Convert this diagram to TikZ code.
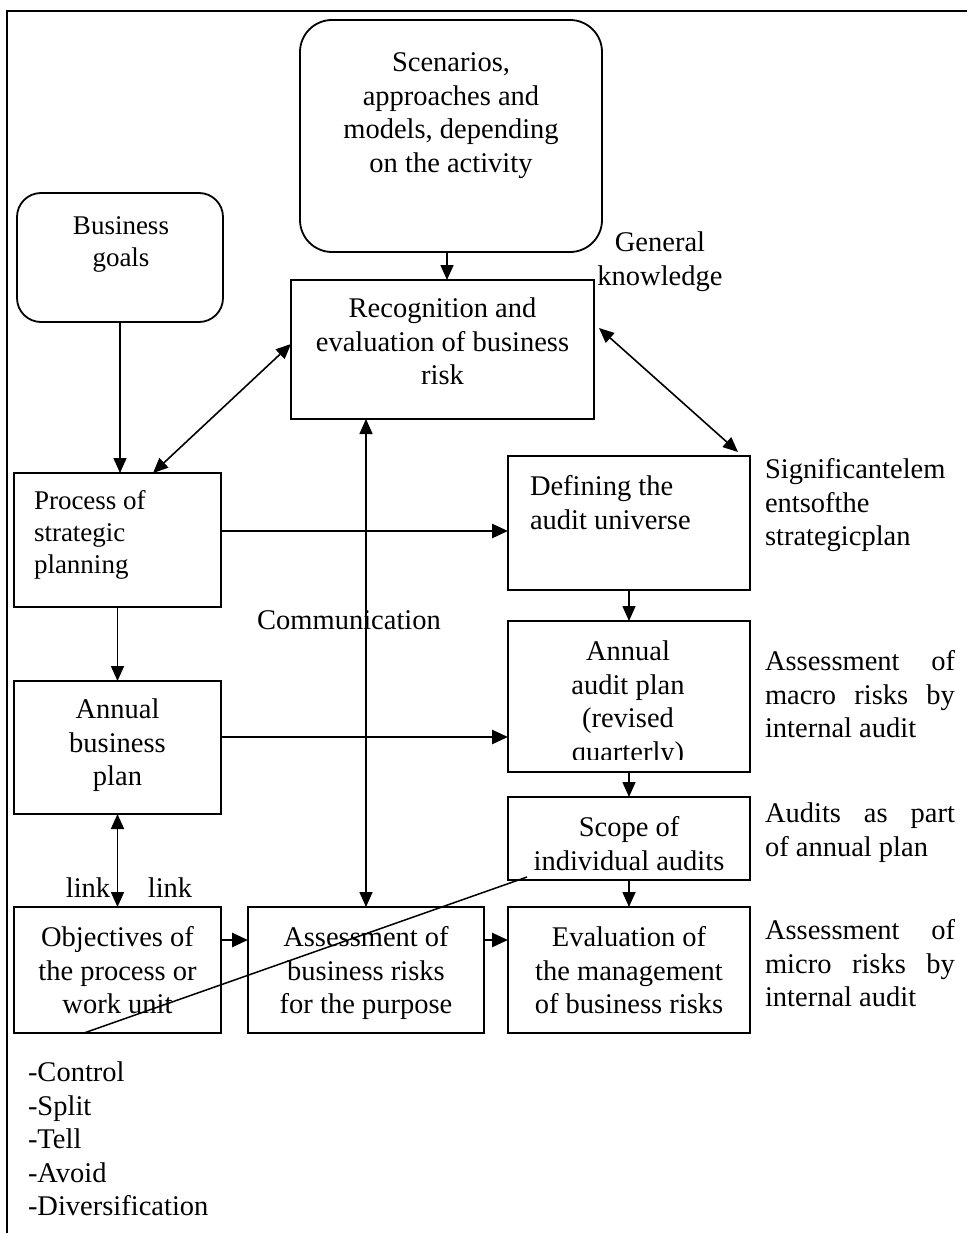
\documentclass[tikz,border=0pt]{standalone}
\usepackage{fontspec}
\setmainfont{Liberation Serif}
\usetikzlibrary{arrows.meta}
\begin{document}
\begin{tikzpicture}[x=1pt,y=-1pt,
  box/.style={draw,line width=1.8pt,inner sep=0pt,outer sep=0pt,rectangle},
  txt/.style={inner sep=0pt,outer sep=0pt,yshift=-3pt,align=center,font=\fontsize{28.5}{33.4}\selectfont},
  ltxt/.style={txt,align=left},
  stxt/.style={inner sep=0pt,outer sep=0pt,yshift=-3pt,align=center,font=\fontsize{27}{31.8}\selectfont},
  stip/.tip={Triangle[length=15pt,width=13pt]},
  btip/.tip={Triangle[length=16pt,width=14pt]},
  arr/.style={-stip,line width=1.6pt},
  darr/.style={stip-stip,line width=1.6pt},
  tarr/.style={-btip,line width=2.6pt},
]
\useasboundingbox (0,0) rectangle (967,1233);
\fill[white] (0,0) rectangle (967,1233);
\draw[line width=2pt] (7,1233) -- (7,11) -- (967,11);

% boxes
\node[box,rounded corners=32pt,minimum width=302pt,minimum height=232pt] (scen) at (451,136) {};
\node[box,rounded corners=24pt,minimum width=206pt,minimum height=129pt] (goals) at (120,257.5) {};
\node[box,minimum width=303pt,minimum height=139pt] (recog) at (442.5,349.5) {};
\node[box,minimum width=207pt,minimum height=134pt] (proc) at (117.5,540) {};
\node[box,minimum width=242pt,minimum height=134pt] (def) at (629,523) {};
\node[box,minimum width=242pt,minimum height=151pt] (aap) at (629,696.5) {};
\node[box,minimum width=207pt,minimum height=133pt] (abp) at (117.5,747.5) {};
\node[box,minimum width=242pt,minimum height=83pt] (scope) at (629,838.5) {};
\node[box,minimum width=207pt,minimum height=126pt] (obj) at (117.5,970) {};
\node[box,minimum width=236pt,minimum height=126pt] (ass) at (366,970) {};
\node[box,minimum width=242pt,minimum height=126pt] (eval) at (629,970) {};

% texts
\node[txt,anchor=north] (tscen) at (451,45.5) {\strut Scenarios,\\approaches and\\models, depending\\on the activity};
\node[stxt,anchor=north] (tgoals) at (121,209.2) {\strut Business\\goals};
\node[txt,anchor=north] (tgen) at (660,225.5) {\strut General\\knowledge};
\node[txt,anchor=north] (trecog) at (442.5,291.5) {\strut Recognition and\\evaluation of business\\risk};
\node[stxt,align=left,anchor=north west] (tproc) at (34,484.2) {\strut Process of\\strategic\\planning};
\node[ltxt,anchor=north west] (tdef) at (530,469.5) {\strut Defining the\\audit universe};
\node[ltxt,anchor=north west] (tsig) at (765,452.5) {\strut Significantelem\\entsofthe\\strategicplan};
\node[txt,anchor=north] (tcomm) at (349,603.5) {\strut Communication};
\begin{scope}
\clip (508,621) rectangle (750,759);
\node[txt,anchor=north] (taap) at (628,634.5) {\strut Annual\\audit plan\\(revised\\quarterly)};
\end{scope}
\node[ltxt,anchor=north west] (tmacro) at (765,644.5) {\strut\makebox[190pt][s]{Assessment of}\\\makebox[190pt][s]{macro risks by}\\internal audit};
\node[txt,anchor=north] (tabp) at (117.5,692.5) {\strut Annual\\business\\plan};
\node[txt,anchor=north] (tscope) at (629,810.5) {\strut Scope of\\individual audits};
\node[ltxt,anchor=north west] (taud) at (765,796.5) {\strut\makebox[190pt][s]{Audits as part}\\of annual plan};
\node[txt,anchor=north] (tlink1) at (88,871.5) {\strut link};
\node[txt,anchor=north] (tlink2) at (170,871.5) {\strut link};
\node[txt,anchor=north] (tobj) at (117.5,920.5) {\strut Objectives of\\the process or\\work unit};
\node[txt,anchor=north] (tass) at (366,920.5) {\strut Assessment of\\business risks\\for the purpose};
\node[txt,anchor=north] (teval) at (629,920.5) {\strut Evaluation of\\the management\\of business risks};
\node[ltxt,anchor=north west] (tmicro) at (765,913.5) {\strut\makebox[190pt][s]{Assessment of}\\\makebox[190pt][s]{micro risks by}\\internal audit};
\node[ltxt,anchor=north west] (tlist) at (28,1055.5) {\strut -Control\\-Split\\-Tell\\-Avoid\\-Diversification};

% connectors
\draw[arr] ([xshift=-4pt]scen.south) -- ([xshift=4.5pt]recog.north);
\draw[arr] (goals.south) -- ([xshift=2.5pt]proc.north);
\draw[darr] ([xshift=35.5pt]proc.north) -- ([yshift=5.5pt]recog.west);
\draw[darr] ([xshift=5pt,yshift=21.5pt]recog.east) -- ([xshift=109pt,yshift=4pt]def.north);
\draw[tarr] ([yshift=9pt]proc.east) -- ([yshift=-8pt]def.west);
\draw[darr] (ass.north |- recog.south) -- (ass.north);
\draw[arr] (def.south) -- (aap.north);
\draw[arr] (proc.south) -- (abp.north);
\draw[tarr] ([yshift=10.5pt]abp.east) -- ([yshift=-40.5pt]aap.west);
\draw[arr] (aap.south) -- (scope.north);
\draw[arr] (scope.south) -- (eval.north);
\draw[darr] (abp.south) -- (obj.north);
\draw[tarr] ([yshift=30pt]obj.east) -- ([yshift=30pt]ass.west);
\draw[tarr] ([yshift=30pt]ass.east) -- ([yshift=30pt]eval.west);
\draw[line width=1.5pt] ([xshift=-33.5pt]obj.south) -- ([xshift=-102pt,yshift=3pt]scope.south);
\end{tikzpicture}
\end{document}
